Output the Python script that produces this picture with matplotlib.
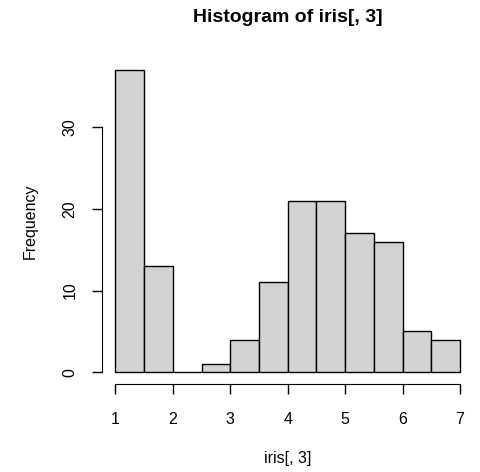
import matplotlib
matplotlib.use('Agg')
import matplotlib.pyplot as plt

# iris petal length histogram, breaks of 0.5
edges = [1.0, 1.5, 2.0, 2.5, 3.0, 3.5, 4.0, 4.5, 5.0, 5.5, 6.0, 6.5, 7.0]
counts = [37, 13, 0, 1, 4, 11, 21, 21, 17, 16, 5, 4]
xticks = [1, 2, 3, 4, 5, 6, 7]
yticks = [0, 10, 20, 30]

plt.rcParams['font.family'] = ['Liberation Sans', 'DejaVu Sans']

W, H = 480, 472
fig = plt.figure(figsize=(W / 100, H / 100), dpi=100)
left, right, top, bottom = 101.7, 473.7, 57.9, 384.4
ax = fig.add_axes([left / W, 1 - bottom / H, (right - left) / W, (bottom - top) / H])

lefts = edges[:-1]
widths = [edges[i + 1] - edges[i] for i in range(len(counts))]
ax.bar(lefts, counts, width=widths, align='edge', color='#d3d3d3',
       edgecolor='black', linewidth=1.0)

ax.set_xlim(0.76, 7.24)
ax.set_ylim(-1.48, 38.48)
ax.spines['top'].set_visible(False)
ax.spines['right'].set_visible(False)
ax.spines['left'].set_bounds(0, 30)
ax.spines['bottom'].set_bounds(1, 7)
ax.set_xticks(xticks)
ax.set_yticks(yticks)
ax.tick_params(length=7.3, width=1.0, labelsize=11.5)
ax.tick_params(axis='x', pad=12.5)
ax.tick_params(axis='y', pad=10)
plt.setp(ax.get_yticklabels(), rotation=90, va='center')

fig.text((left + right) / 2 / W, 1 - 17 / H, 'Histogram of iris[, 3]',
         ha='center', va='center', fontsize=14, fontweight='bold')
fig.text((left + right) / 2 / W, 1 - 459 / H, 'iris[, 3]',
         ha='center', va='center', fontsize=11.5)
fig.text(30 / W, 1 - (top + bottom) / 2 / H, 'Frequency', rotation=90,
         ha='center', va='center', fontsize=11.5)

fig.savefig('out.png', dpi=100)
